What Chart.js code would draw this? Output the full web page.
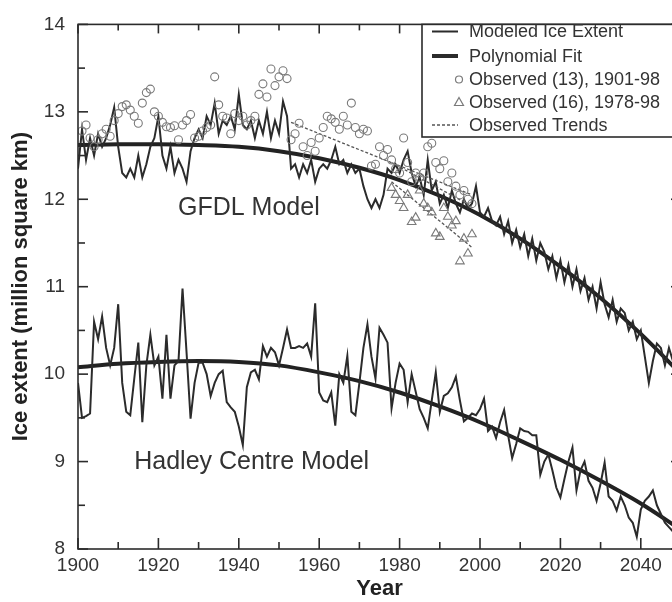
<!DOCTYPE html>
<html lang="en">
<head>
<meta charset="UTF-8">
<title>Ice extent</title>
<script src="https://cdn.jsdelivr.net/npm/chart.js"></script>
<style>
  * { margin: 0; padding: 0; box-sizing: border-box; }
  html, body { width: 672px; height: 602px; overflow: hidden; background: #fff; }
  canvas { display: block; }
</style>
</head>
<body>
<canvas id="iceChart" width="690" height="602"></canvas>
<script>
  // annual model output, one value per year from firstYear
  const firstYear = 1900;
  const gfdlModel = [
    12.35, 12.8, 12.45, 12.7, 12.5, 12.75, 12.6, 12.7, 12.85, 13.05,
    12.6, 12.3, 12.25, 12.35, 12.25, 12.5, 12.25, 12.4, 12.6, 12.7,
    12.95, 12.5, 12.35, 12.6, 12.3, 12.45, 12.35, 12.2, 12.55, 12.7,
    12.8, 12.7, 12.95, 12.85, 13.1, 12.75, 12.9, 12.85, 12.95, 12.8,
    13.2, 12.85, 12.8, 12.9, 12.7, 12.9, 12.75, 13.0, 12.7, 12.9,
    12.75, 13.12, 12.95, 12.35, 12.4, 12.25, 12.4, 12.3, 12.45, 12.2,
    12.35, 12.4, 12.35, 12.45, 12.6, 12.4, 12.45, 12.3, 12.4, 12.3,
    12.35, 12.15, 12.0, 11.9, 12.0, 11.9, 12.05, 12.35, 12.3, 12.4,
    12.3, 12.45, 12.55, 12.3, 12.15, 12.25, 12.05, 12.45, 12.1, 12.2,
    11.95, 12.05, 11.9, 12.1, 11.95, 11.85, 12.0, 11.9, 11.95, 12.15,
    11.85, 11.8, 11.9, 11.75, 11.7, 11.8, 11.6, 11.75, 11.5, 11.65,
    11.45, 11.6, 11.35, 11.55, 11.3, 11.5, 11.4, 11.2, 11.35, 11.1,
    11.3, 11.05, 11.25, 11.0, 11.2, 10.95, 11.1, 10.85, 11.0, 10.75,
    11.05, 10.8, 10.65, 10.85, 10.6, 10.75, 10.7, 10.5, 10.6, 10.4,
    10.5, 10.2, 9.9, 10.15, 10.35, 10.3, 10.1, 10.3, 10.15
  ];
  const hadleyModel = [
    9.9, 9.5, 9.52, 9.55, 10.6, 10.4, 10.66, 10.3, 10.1, 10.3,
    10.8, 9.9, 9.57, 9.53, 9.95, 10.36, 9.45, 10.1, 10.45, 10.1,
    10.2, 9.72, 10.45, 9.72, 10.1, 10.15, 10.98, 10.25, 9.49, 9.9,
    10.13, 10.13, 10.0, 9.75, 9.9, 10.0, 10.04, 9.68, 9.62, 9.57,
    9.4, 9.19, 9.85, 10.02, 10.05, 9.94, 10.32, 10.2, 10.3, 10.25,
    10.1, 10.3, 10.51, 10.3, 10.3, 10.32, 10.3, 10.35, 10.2, 10.81,
    9.79, 9.7, 9.68, 9.79, 9.41, 10.0, 9.9, 10.21, 9.57, 9.53,
    9.9, 10.3, 10.57, 10.2, 9.95, 10.53, 10.45, 10.36, 9.61, 9.9,
    10.12, 10.05, 9.68, 10.0, 9.8, 9.6, 9.5, 9.38, 9.7, 10.02,
    9.57, 9.75, 9.78, 9.85, 9.97, 9.7, 9.46, 9.5, 9.55, 9.53,
    9.6, 9.72, 9.35, 9.4, 9.27, 9.45, 9.59, 9.3, 9.04, 9.2,
    9.38, 9.35, 9.34, 9.3, 9.3, 8.85, 9.0, 9.08, 8.9, 8.7,
    8.59, 8.8, 9.0, 9.16, 8.67, 8.9, 9.0, 8.78, 8.7, 8.55,
    8.75, 8.99, 8.6, 8.55, 8.44, 8.6, 8.5, 8.36, 8.3, 8.14,
    8.45, 8.55, 8.6, 8.67, 8.5, 8.4, 8.3, 8.25, 8.2
  ];

  // polynomial fits read every ten years
  const fitYears = [1900, 1910, 1920, 1930, 1940, 1950, 1960, 1970, 1980, 1990, 2000, 2010, 2020, 2030, 2040, 2050];
  const gfdlFit = [12.62, 12.63, 12.63, 12.62, 12.6, 12.55, 12.47, 12.36, 12.22, 12.04, 11.82, 11.55, 11.23, 10.87, 10.46, 10.0];
  const hadleyFit = [10.08, 10.12, 10.14, 10.15, 10.14, 10.1, 10.02, 9.92, 9.79, 9.63, 9.45, 9.24, 9.02, 8.78, 8.52, 8.22];

  // observations (13), 1901-98
  const circleStart = 1901;
  const obsCircles = [
    12.78, 12.85, 12.7, 12.6, 12.68, 12.75, 12.8, 12.72, 12.9,
    12.98, 13.06, 13.08, 13.02, 12.95, 12.87, 13.1, 13.22, 13.26, 13.0,
    12.95, 12.88, 12.83, 12.82, 12.84, 12.68, 12.85, 12.9, 12.97, 12.7,
    12.72, 12.78, 12.82, 12.85, 13.4, 13.08, 12.95, 12.93, 12.75, 12.98,
    12.9, 12.95, 12.85, 12.9, 12.95, 13.2, 13.32, 13.17, 13.49, 13.3,
    13.4, 13.47, 13.38, 12.68, 12.75, 12.87, 12.6, 12.5, 12.65, 12.55,
    12.7, 12.82, 12.95, 12.92, 12.88, 12.8, 12.95, 12.85, 13.1, 12.82,
    12.75, 12.8, 12.78, 12.38, 12.4, 12.6, 12.5, 12.57, 12.45, 12.35,
    12.3, 12.7, 12.42, 12.2, 12.3, 12.25, 12.3, 12.6, 12.64, 12.42,
    12.35, 12.44, 12.2, 12.3, 12.15, 12.05, 12.1, 12.0, 11.95
  ];
  // observations (16), 1978-98
  const triangleStart = 1978;
  const obsTriangles = [
    12.13, 12.05, 11.98, 11.9, 12.05, 11.74, 11.79, 12.1, 11.95, 11.9,
    11.85, 11.61, 11.57, 11.9, 11.8, 11.7, 11.75, 11.29, 11.55, 11.38, 11.6
  ];

  // observed trend lines, start and end
  const trendStartYears = [1953, 1978, 1978];
  const trendEndYears = [1998, 1998, 1998];
  const trendStartValues = [12.88, 12.42, 12.2];
  const trendEndValues = [12.05, 11.92, 11.45];

  const xTickLabels = [1900, 1920, 1940, 1960, 1980, 2000, 2020, 2040];
  const xMinorTicks = [1910, 1930, 1950, 1970, 1990, 2010, 2030, 2050];
  const yTickLabels = [8, 9, 10, 11, 12, 13, 14];
  const yMinorTicks = [8.5, 9.5, 10.5, 11.5, 12.5, 13.5];

  const ink = '#2b2b2b';
  const textInk = '#333333';
  const markInk = '#7a7a7a';
  const face = '"Liberation Sans", Arial, sans-serif';

  const annual = (start, values) => values.map((v, i) => ({ x: start + i, y: v }));
  const paired = (xs, ys) => xs.map((x, i) => ({ x: x, y: ys[i] }));

  const trendSets = trendStartYears.map((y0, i) => ({
    data: [{ x: y0, y: trendStartValues[i] }, { x: trendEndYears[i], y: trendEndValues[i] }],
    borderColor: '#555',
    borderWidth: 1.3,
    borderDash: [3, 2],
    pointRadius: 0
  }));

  const frameTicks = {
    id: 'frameTicks',
    afterDatasetsDraw(chart) {
      const { ctx, chartArea: a, scales: { x, y } } = chart;
      ctx.save();
      ctx.strokeStyle = ink;
      ctx.lineWidth = 1.6;
      ctx.strokeRect(a.left, a.top, a.right - a.left, a.bottom - a.top);
      const mark = (px, py, dx, dy) => {
        ctx.beginPath();
        ctx.moveTo(px, py);
        ctx.lineTo(px + dx, py + dy);
        ctx.stroke();
      };
      xTickLabels.forEach(v => {
        const px = x.getPixelForValue(v);
        mark(px, a.bottom, 0, -11);
        mark(px, a.top, 0, 9);
      });
      xMinorTicks.forEach(v => {
        const px = x.getPixelForValue(v);
        mark(px, a.bottom, 0, -7);
        mark(px, a.top, 0, 6);
      });
      yTickLabels.forEach(v => {
        const py = y.getPixelForValue(v);
        mark(a.left, py, 10, 0);
        mark(a.right, py, -10, 0);
      });
      yMinorTicks.forEach(v => {
        const py = y.getPixelForValue(v);
        mark(a.left, py, 7, 0);
        mark(a.right, py, -7, 0);
      });
      ctx.restore();
    }
  };

  const notes = {
    id: 'notes',
    afterDraw(chart) {
      const { ctx, scales: { x, y } } = chart;
      ctx.save();
      ctx.fillStyle = textInk;
      ctx.font = '25px ' + face;
      ctx.textAlign = 'center';
      ctx.textBaseline = 'middle';
      ctx.fillText('GFDL Model', x.getPixelForValue(1942.5), y.getPixelForValue(11.9));
      ctx.fillText('Hadley Centre Model', x.getPixelForValue(1943.2), y.getPixelForValue(8.99));

      // legend box in the top right corner
      const a = chart.chartArea;
      const left = 422, bottom = 137;
      ctx.fillStyle = '#fff';
      ctx.fillRect(left, a.top, a.right - left, bottom - a.top);
      ctx.strokeStyle = ink;
      ctx.lineWidth = 1.6;
      ctx.strokeRect(left, a.top, a.right - left, bottom - a.top);

      const rows = [31.5, 56, 79.5, 102, 125];
      const names = ['Modeled Ice Extent', 'Polynomial Fit', 'Observed (13), 1901-98', 'Observed (16), 1978-98', 'Observed Trends'];
      ctx.font = '18px ' + face;
      ctx.textAlign = 'left';
      names.forEach((n, i) => {
        ctx.fillStyle = textInk;
        ctx.fillText(n, 469, rows[i] + 1);
      });
      ctx.strokeStyle = ink;
      ctx.lineWidth = 2;
      ctx.beginPath(); ctx.moveTo(432, rows[0]); ctx.lineTo(458, rows[0]); ctx.stroke();
      ctx.lineWidth = 4;
      ctx.beginPath(); ctx.moveTo(432, rows[1]); ctx.lineTo(458, rows[1]); ctx.stroke();
      ctx.strokeStyle = markInk;
      ctx.lineWidth = 1.2;
      ctx.beginPath(); ctx.arc(459, rows[2], 3.5, 0, Math.PI * 2); ctx.stroke();
      ctx.beginPath();
      ctx.moveTo(459, rows[3] - 4.5); ctx.lineTo(463.5, rows[3] + 3.5); ctx.lineTo(454.5, rows[3] + 3.5); ctx.closePath();
      ctx.stroke();
      ctx.strokeStyle = '#555';
      ctx.lineWidth = 1.3;
      ctx.setLineDash([3, 2]);
      ctx.beginPath(); ctx.moveTo(432, rows[4]); ctx.lineTo(458, rows[4]); ctx.stroke();
      ctx.restore();
    }
  };

  const tickFont = { family: face, size: 19 };
  const titleFont = { family: face, size: 22, weight: 'bold' };

  new Chart(document.getElementById('iceChart'), {
    type: 'line',
    data: {
      datasets: [
        {
          data: annual(circleStart, obsCircles),
          showLine: false,
          pointStyle: 'circle',
          pointRadius: 4,
          pointBorderWidth: 1.1,
          pointBorderColor: markInk,
          pointBackgroundColor: 'rgba(0,0,0,0)'
        },
        {
          data: annual(triangleStart, obsTriangles),
          showLine: false,
          pointStyle: 'triangle',
          pointRadius: 5,
          pointBorderWidth: 1.1,
          pointBorderColor: markInk,
          pointBackgroundColor: 'rgba(0,0,0,0)'
        },
        ...trendSets,
        {
          data: annual(firstYear, gfdlModel),
          borderColor: ink,
          borderWidth: 2,
          pointRadius: 0,
          tension: 0
        },
        {
          data: annual(firstYear, hadleyModel),
          borderColor: ink,
          borderWidth: 2,
          pointRadius: 0,
          tension: 0
        },
        {
          data: paired(fitYears, gfdlFit),
          borderColor: '#222',
          borderWidth: 4,
          pointRadius: 0,
          cubicInterpolationMode: 'monotone'
        },
        {
          data: paired(fitYears, hadleyFit),
          borderColor: '#222',
          borderWidth: 4,
          pointRadius: 0,
          cubicInterpolationMode: 'monotone'
        }
      ]
    },
    options: {
      responsive: false,
      animation: false,
      devicePixelRatio: 1,
      layout: { padding: { top: 18, right: 9, left: 0, bottom: 0 } },
      plugins: {
        legend: { display: false },
        tooltip: { enabled: false }
      },
      scales: {
        x: {
          type: 'linear',
          min: 1900,
          max: 2050,
          afterBuildTicks: s => { s.ticks = xTickLabels.map(v => ({ value: v })); },
          afterFit: s => { s.height = 53; },
          grid: { display: false, drawTicks: false },
          border: { display: false },
          ticks: {
            font: tickFont,
            color: textInk,
            padding: 5,
            maxRotation: 0,
            autoSkip: false,
            callback: v => String(v)
          },
          title: {
            display: true,
            text: 'Year',
            font: titleFont,
            color: '#222',
            padding: { top: 0, bottom: 0 }
          }
        },
        y: {
          min: 8,
          max: 14,
          afterBuildTicks: s => { s.ticks = yTickLabels.map(v => ({ value: v })); },
          afterFit: s => { s.width = 78; },
          grid: { display: false, drawTicks: false },
          border: { display: false },
          ticks: {
            font: tickFont,
            color: textInk,
            padding: 13,
            callback: v => String(v)
          },
          title: {
            display: true,
            text: 'Ice extent (million square km)',
            font: titleFont,
            color: '#222',
            padding: { top: 8, bottom: 0 }
          }
        }
      }
    },
    plugins: [frameTicks, notes]
  });
</script>
</body>
</html>
